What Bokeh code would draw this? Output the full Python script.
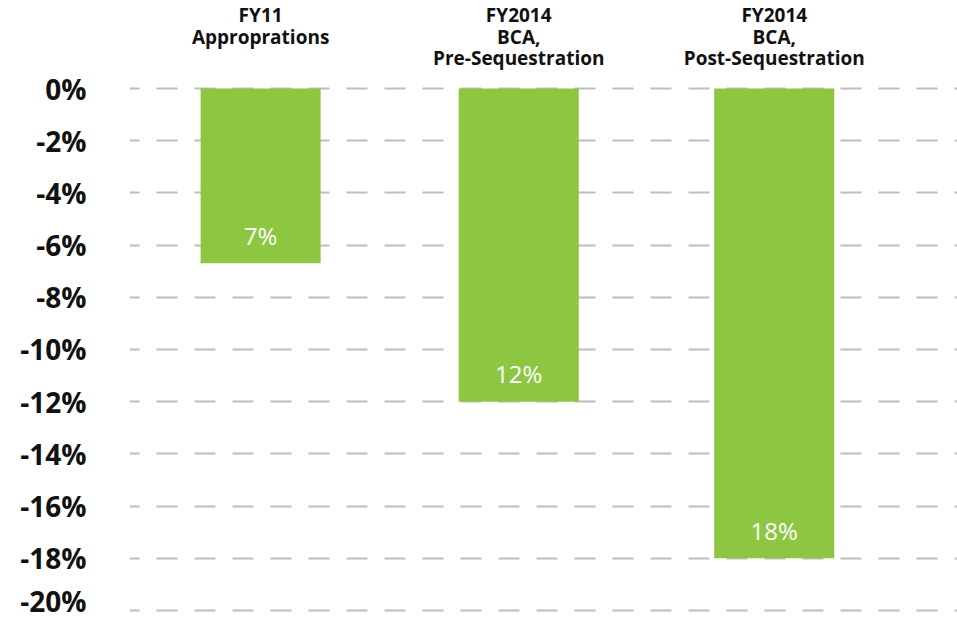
from bokeh.plotting import figure
from bokeh.models import Range1d, FixedTicker, ColumnDataSource
from bokeh.core.properties import value
from bokeh.embed import file_html
from bokeh.resources import INLINE

# ---- data ----
categories = ["FY11\nApproprations", "FY2014\nBCA,\nPre-Sequestration", "FY2014\nBCA,\nPost-Sequestration"]
cuts = [-6.7, -12.0, -18.0]
bar_labels = ["7%", "12%", "18%"]
y_ticks = [0, -2, -4, -6, -8, -10, -12, -14, -16, -18, -20]
y_tick_labels = ["0%", "-2%", "-4%", "-6%", "-8%", "-10%", "-12%", "-14%", "-16%", "-18%", "-20%"]

FONT = "Open Sans"
GREEN = "#8dc641"

p = figure(width=957, height=619, output_backend="svg", toolbar_location=None,
           x_range=Range1d(-0.508, 2.70), y_range=Range1d(-20.27, 3.372),
           x_axis_location=None, min_border_left=129, min_border_right=0,
           min_border_top=0, min_border_bottom=2)
p.outline_line_color = None
p.background_fill_color = "white"
p.border_fill_color = "white"

xs = [0, 1.0, 1.99]
src = ColumnDataSource(dict(x=xs, top=[0] * 3, bottom=cuts, lab=bar_labels))
p.vbar(x="x", top="top", bottom="bottom", width=0.465, source=src,
       fill_color=GREEN, line_color=None)

p.text(x="x", y="bottom", text="lab", source=src, text_color="white",
       text_font=value(FONT), text_font_size="24px", text_align="center",
       text_baseline="middle", y_offset=-28)

# category headers (above the chart)
hx, hy, ht, hoff = [], [], [], []
for x, c in zip(xs, categories):
    for i, line in enumerate(c.split("\n")):
        hx.append(x); hy.append(0); ht.append(line); hoff.append(-73.5 + 21.7 * i)
hsrc = ColumnDataSource(dict(x=hx, y=hy, t=ht, off=hoff))
p.text(x="x", y="y", text="t", y_offset="off", source=hsrc, text_color="#111111",
       text_font=value(FONT), text_font_style="bold", text_font_size="19px",
       text_align="center", text_baseline="middle")

# axes & grid
p.yaxis.ticker = FixedTicker(ticks=y_ticks)
p.yaxis.major_label_overrides = {t: l for t, l in zip(y_ticks, y_tick_labels)}
p.yaxis.axis_line_color = None
p.yaxis.major_tick_line_color = None
p.yaxis.minor_tick_line_color = None
p.yaxis.major_tick_out = 0
p.yaxis.major_tick_in = 0
p.yaxis.major_label_standoff = 43
p.yaxis.major_label_text_font = FONT
p.yaxis.major_label_text_font_style = "bold"
p.yaxis.major_label_text_font_size = "28px"
p.yaxis.major_label_text_color = "#111111"

p.xgrid.grid_line_color = None
p.ygrid.ticker = FixedTicker(ticks=y_ticks)
p.ygrid.grid_line_color = "#bdbdbd"
p.ygrid.grid_line_width = 2
p.ygrid.grid_line_dash = "21 17"
p.ygrid.grid_line_dash_offset = 11
p.ygrid.level = "underlay"

open("out.html", "w").write(file_html(p, INLINE))
